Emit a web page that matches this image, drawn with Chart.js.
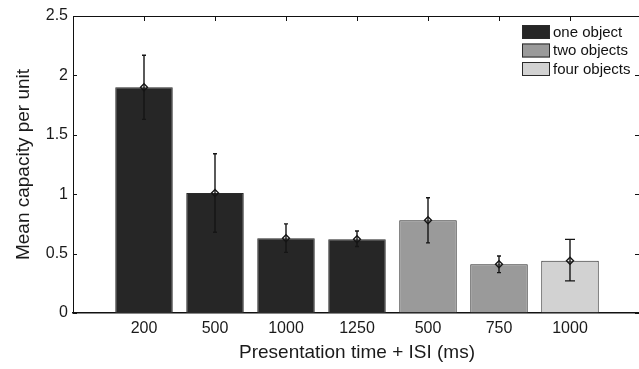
<!DOCTYPE html>
<html>
<head>
<meta charset="utf-8">
<script src="https://cdn.jsdelivr.net/npm/chart.js@4/dist/chart.umd.min.js"></script>
<style>
  html, body { margin: 0; padding: 0; background: #fff; overflow: hidden; }
  #wrap { position: absolute; left: 0; top: 0; width: 647px; height: 369px; }
</style>
</head>
<body>
<div id="wrap"><canvas id="c" width="647" height="369"></canvas></div>
<script>
// Condition labels along the x axis (presentation time + ISI, ms)
const tickLabels = ['200', '500', '1000', '1250', '500', '750', '1000'];
// Group each condition belongs to
const groups = ['one object', 'one object', 'one object', 'one object', 'two objects', 'two objects', 'four objects'];
// Mean capacity per unit and error-bar limits
const means = [1.90, 1.01, 0.63, 0.62, 0.78, 0.41, 0.44];
const errLow = [1.63, 0.68, 0.51, 0.56, 0.59, 0.34, 0.27];
const errHigh = [2.17, 1.34, 0.75, 0.69, 0.97, 0.48, 0.62];

const groupNames = ['one object', 'two objects', 'four objects'];
const groupColors = ['#262626', '#9a9a9a', '#d2d2d2'];

const FONT = "'Liberation Sans', Arial, Helvetica, sans-serif";

const datasets = groupNames.map((g, gi) => ({
  label: g,
  data: means.map((m, i) => groups[i] === g ? { x: i + 1, y: m } : null).filter(Boolean),
  backgroundColor: groupColors[gi],
  borderColor: '#2a2a2a',
  borderWidth: 1,
  borderSkipped: false,
  barPercentage: 0.81,
  categoryPercentage: 1.0,
  grouped: false
}));

// Draws the box frame, inward ticks, error bars, markers and legend
const decor = {
  id: 'decor',
  afterDatasetsDraw(chart) {
    const { ctx, chartArea: a, scales: { x, y } } = chart;
    ctx.save();
    ctx.strokeStyle = '#111';
    ctx.lineWidth = 1;
    // top and right edges of the box
    ctx.beginPath();
    ctx.moveTo(a.left, a.top + 0.5);
    ctx.lineTo(a.right, a.top + 0.5);
    ctx.moveTo(a.right - 0.5, a.top);
    ctx.lineTo(a.right - 0.5, a.bottom);
    ctx.stroke();
    // inward ticks on left and right for each y tick
    y.ticks.forEach(t => {
      const py = Math.round(y.getPixelForValue(t.value)) + 0.5;
      ctx.beginPath();
      ctx.moveTo(a.left, py); ctx.lineTo(a.left + 4, py);
      ctx.moveTo(a.right, py); ctx.lineTo(a.right - 6, py);
      ctx.stroke();
    });
    // inward ticks on the top edge at each condition
    tickLabels.forEach((_, i) => {
      const px = Math.round(x.getPixelForValue(i + 1)) + 0.5;
      ctx.beginPath();
      ctx.moveTo(px, a.top); ctx.lineTo(px, a.top + 5);
      ctx.stroke();
    });
    // error bars
    ctx.strokeStyle = '#151515';
    ctx.lineWidth = 1.4;
    means.forEach((m, i) => {
      const px = x.getPixelForValue(i + 1);
      const yl = y.getPixelForValue(errLow[i]);
      const yh = y.getPixelForValue(errHigh[i]);
      const cap = i === means.length - 1 ? 5 : 2;
      ctx.beginPath();
      ctx.moveTo(px, yl); ctx.lineTo(px, yh);
      ctx.moveTo(px - cap, yh); ctx.lineTo(px + cap, yh);
      ctx.moveTo(px - cap, yl); ctx.lineTo(px + cap, yl);
      ctx.stroke();
      // diamond marker at the mean
      const py = y.getPixelForValue(m);
      const r = 3.5;
      ctx.beginPath();
      ctx.moveTo(px, py - r); ctx.lineTo(px + r, py);
      ctx.lineTo(px, py + r); ctx.lineTo(px - r, py);
      ctx.closePath();
      ctx.lineWidth = 1.4;
      ctx.stroke();
    });
    // legend in the upper right corner
    const lx = 522, ly = 25, bw = 28, bh = 14, step = 18.5;
    ctx.font = '15px ' + FONT;
    ctx.textBaseline = 'middle';
    ctx.textAlign = 'left';
    groupNames.forEach((g, gi) => {
      const top = ly + gi * step;
      ctx.fillStyle = groupColors[gi];
      ctx.fillRect(lx, top, bw, bh);
      ctx.strokeStyle = '#2a2a2a';
      ctx.lineWidth = 1;
      ctx.strokeRect(lx + 0.5, top + 0.5, bw - 1, bh - 1);
      ctx.fillStyle = '#111';
      ctx.fillText(g, lx + bw + 3, top + bh / 2 + 0.5);
    });
    ctx.restore();
  }
};

new Chart(document.getElementById('c'), {
  type: 'bar',
  data: { datasets },
  plugins: [decor],
  options: {
    responsive: false,
    animation: false,
    layout: { padding: { left: 0, right: 4, top: 16, bottom: 0 } },
    plugins: { legend: { display: false }, tooltip: { enabled: false } },
    scales: {
      x: {
        type: 'linear',
        min: 0, max: 8,
        offset: false,
        grid: { display: false, drawTicks: false },
        border: { display: true, color: '#111', width: 1.6 },
        ticks: {
          stepSize: 1,
          autoSkip: false,
          maxRotation: 0,
          padding: 6,
          color: '#1a1a1a',
          font: { family: FONT, size: 16 },
          callback: v => tickLabels[v - 1] ?? ''
        },
        title: {
          display: true,
          text: 'Presentation time + ISI (ms)',
          color: '#1a1a1a',
          font: { family: FONT, size: 19 },
          padding: { top: 0, bottom: 5 }
        },
        afterFit: s => { s.height = 56; }
      },
      y: {
        min: 0, max: 2.5,
        grid: { display: false, drawTicks: false },
        border: { display: true, color: '#111', width: 1 },
        ticks: {
          stepSize: 0.5,
          padding: 5,
          color: '#1a1a1a',
          font: { family: FONT, size: 16 },
          callback: v => String(v)
        },
        title: {
          display: true,
          text: 'Mean capacity per unit',
          color: '#1a1a1a',
          font: { family: FONT, size: 19 },
          padding: { top: 12, bottom: 0 }
        },
        afterFit: s => { s.width = 73; }
      }
    }
  }
});
</script>
</body>
</html>
